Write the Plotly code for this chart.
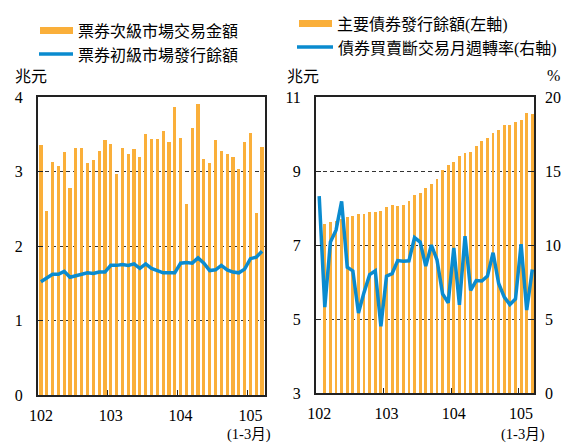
import plotly.graph_objects as go

# Monthly periods, 102/01 .. 105/03 (ROC years)
periods = [f"{y}/{m:02d}" for y in (102, 103, 104) for m in range(1, 13)] + ["105/01", "105/02", "105/03"]
year_labels = ["102", "103", "104", "105"]

# Left panel: bills market (兆元)
secondary_trading = [3.35, 2.47, 3.13, 3.08, 3.26, 2.78, 3.32, 3.32, 3.12, 3.15, 3.27, 3.42,
                     3.37, 2.96, 3.32, 3.24, 3.30, 3.20, 3.51, 3.43, 3.44, 3.55, 3.40, 3.86,
                     3.45, 2.57, 3.58, 3.91, 3.17, 3.11, 3.42, 3.28, 3.23, 3.20, 3.03, 3.40,
                     3.52, 2.44, 3.33]
primary_outstanding = [1.52, 1.57, 1.62, 1.62, 1.66, 1.58, 1.60, 1.61, 1.64, 1.63, 1.65, 1.65,
                       1.74, 1.74, 1.75, 1.74, 1.76, 1.70, 1.76, 1.70, 1.67, 1.64, 1.64, 1.64,
                       1.77, 1.78, 1.77, 1.84, 1.77, 1.67, 1.68, 1.74, 1.68, 1.65, 1.64, 1.69,
                       1.83, 1.85, 1.93]

# Right panel: bonds (兆元, left axis) and outright turnover rate (%, right axis)
bond_outstanding = [None, 7.57, 7.62, 7.65, 7.70, 7.75, 7.78, 7.85, 7.83, 7.90, 7.90, 7.93,
                    8.02, 8.08, 8.05, 8.08, 8.20, 8.35, 8.40, 8.53, 8.66, 8.79, 9.02, 9.17,
                    9.23, 9.41, 9.50, 9.52, 9.67, 9.81, 9.89, 10.02, 10.10, 10.23, 10.25, 10.32,
                    10.38, 10.58, 10.53]
turnover_rate = [13.3, 5.8, 10.2, 11.0, 12.95, 8.5, 8.25, 5.4, 6.8, 8.0, 8.25, 4.5,
                 7.9, 8.07, 8.95, 8.9, 8.93, 10.5, 10.2, 8.57, 10.0, 9.0, 6.7, 6.1,
                 9.8, 5.95, 10.6, 6.93, 7.6, 7.57, 7.9, 9.48, 7.4, 6.48, 5.98, 6.36,
                 10.05, 5.6, 8.34]

ORANGE = "#FAAF3A"
BLUE = "#0A8BCF"
W, H = 564, 443
SERIF = "Liberation Serif"
CJK = "Noto Sans CJK TC"

x = list(range(len(periods)))
year_pos = [periods.index(f"{y}/01") for y in year_labels]
year_bounds = [p - 0.5 for p in year_pos[1:]]


def px(v):
    return v / W


def py(v):
    return 1 - v / H


def cjk(s):
    return f'<span style="font-family:{CJK}">{s}</span>'


fig = go.Figure()
fig.add_trace(go.Bar(x=x, y=secondary_trading, marker_color=ORANGE, marker_line_width=0,
                     width=0.55, xaxis="x", yaxis="y", showlegend=False))
fig.add_trace(go.Scatter(x=x, y=primary_outstanding, mode="lines", line=dict(color=BLUE, width=3.5),
                         xaxis="x", yaxis="y", showlegend=False))
fig.add_trace(go.Bar(x=x, y=bond_outstanding, marker_color=ORANGE, marker_line_width=0,
                     width=0.5, xaxis="x2", yaxis="y2", showlegend=False))
fig.add_trace(go.Scatter(x=x, y=turnover_rate, mode="lines", line=dict(color=BLUE, width=3.5),
                         xaxis="x2", yaxis="y3", showlegend=False))

axis_common = dict(showline=True, linecolor="#222", linewidth=2, mirror=True, automargin=False,
                   tickfont=dict(family=SERIF, size=16, color="black"), zeroline=False)
xcommon = dict(axis_common, tickmode="array", tickvals=year_pos, ticktext=year_labels,
               ticks="", showgrid=False, ticklabelstandoff=5,
               minor=dict(tickmode="array", tickvals=year_bounds, ticks="inside",
                          ticklen=5, tickcolor="#222", tickwidth=1, showgrid=False))
grid = dict(showgrid=True, gridcolor="#333", gridwidth=1, griddash="4px,3px",
            ticks="inside", ticklen=5, tickcolor="#222", ticklabelstandoff=10)

fig.update_layout(
    width=W, height=H, autosize=False,
    margin=dict(l=0, r=0, t=0, b=0, pad=0, autoexpand=False),
    paper_bgcolor="white", plot_bgcolor="white", bargap=0, showlegend=False,
    xaxis=dict(xcommon, domain=[px(38), px(265)], range=[-0.5, 38.5], anchor="y"),
    yaxis=dict(axis_common, **grid, domain=[py(395), py(97)], range=[0, 4],
               tickvals=[0, 1, 2, 3, 4], anchor="x"),
    xaxis2=dict(xcommon, domain=[px(316), px(534)], range=[-0.57, 38.3], anchor="y2"),
    yaxis2=dict(axis_common, **grid, domain=[py(393), py(97)], range=[3, 11],
                tickvals=[3, 5, 7, 9, 11], anchor="x2"),
    yaxis3=dict(tickfont=dict(family=SERIF, size=16, color="black"), overlaying="y2",
                side="right", anchor="x2", range=[0, 20], tickvals=[0, 5, 10, 15, 20],
                showgrid=False, zeroline=False, showline=False, ticks="inside", ticklen=5,
                tickcolor="#222", ticklabelstandoff=10, automargin=False),
)

shapes = []
annotations = []


def legend_entry(x0, x1, yc, kind, text):
    if kind == "bar":
        shapes.append(dict(type="rect", xref="paper", yref="paper", x0=px(x0), x1=px(x1),
                           y0=py(yc + 3.5), y1=py(yc - 3.5), fillcolor=ORANGE, line_width=0))
    else:
        shapes.append(dict(type="line", xref="paper", yref="paper", x0=px(x0), x1=px(x1),
                           y0=py(yc), y1=py(yc), line=dict(color=BLUE, width=3.5)))
    annotations.append(dict(text=text, xref="paper", yref="paper", x=px(x1 + 3), y=py(yc),
                            xanchor="left", yanchor="middle", showarrow=False,
                            font=dict(family=SERIF, size=16, color="black")))


legend_entry(40, 73, 30.5, "bar", cjk("票券次級市場交易金額"))
legend_entry(39, 73, 54, "line", cjk("票券初級市場發行餘額"))
legend_entry(299, 332, 23.5, "bar", cjk("主要債券發行餘額") + "(" + cjk("左軸") + ")")
legend_entry(297, 333, 47, "line", cjk("債券買賣斷交易月週轉率") + "(" + cjk("右軸") + ")")


def label(text, xc, yc, size=16):
    annotations.append(dict(text=text, xref="paper", yref="paper", x=px(xc), y=py(yc),
                            xanchor="center", yanchor="middle", showarrow=False,
                            font=dict(family=SERIF, size=size, color="black")))


label(cjk("兆元"), 31, 75)
label(cjk("兆元"), 303, 75)
label("%", 553, 75)
label("(1-3" + cjk("月") + ")", 249, 432.5, 14.5)
label("(1-3" + cjk("月") + ")", 523, 432.5, 14.5)

fig.update_layout(shapes=shapes, annotations=annotations)
fig.write_html("out.html")
